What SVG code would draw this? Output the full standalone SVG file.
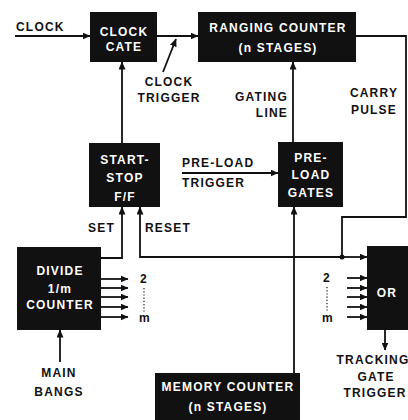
<svg xmlns="http://www.w3.org/2000/svg" width="408" height="420" viewBox="0 0 408 420">
<defs>
<marker id="ah" markerWidth="8" markerHeight="7" refX="7.5" refY="3.5" orient="auto" markerUnits="userSpaceOnUse">
<path d="M0,0 L8,3.5 L0,7 Z" fill="#111"/>
</marker>
<style>
.box{fill:#111;}
.t{font-family:"Liberation Sans",Arial,sans-serif;font-weight:bold;font-size:12px;letter-spacing:1.2px;fill:#111;}
.w{fill:#fff;text-anchor:middle;}
.c{text-anchor:middle;}
.ln{fill:none;stroke:#111;stroke-width:1.8;}
.a{marker-end:url(#ah);}
.dot{fill:none;stroke:#111;stroke-width:1.2;stroke-dasharray:1.2 2;}
</style>
</defs>
<rect width="408" height="420" fill="#fff"/>

<g id="connectors">
<path class="ln a" d="M15,36 H90"/>
<path class="ln a" d="M157,36 H198"/>
<path class="ln a" d="M163,72 L176,39"/>
<path class="ln a" d="M122,143 V62"/>
<path class="ln" d="M356,36 H406 V217 H342 V257"/>
<path class="ln a" d="M342,257 H140 V207"/>
<path class="ln a" d="M342,257 H367"/>
<circle cx="342" cy="257" r="2.5" fill="#111"/>
<path class="ln a" d="M101,258 H122 V207"/>
<path class="ln a" d="M293,142 V62"/>
<path class="ln a" d="M182,173 H278"/>
<path class="ln a" d="M294,373 V207"/>
<path class="ln a" d="M101,279 H128"/>
<path class="ln a" d="M101,288 H128"/>
<path class="ln a" d="M101,297 H128"/>
<path class="ln a" d="M101,307 H128"/>
<path class="ln a" d="M101,317 H128"/>
<path class="ln a" d="M347,278 H367"/>
<path class="ln a" d="M347,288 H367"/>
<path class="ln a" d="M347,297 H367"/>
<path class="ln a" d="M347,307 H367"/>
<path class="ln a" d="M347,317 H367"/>
<path class="ln a" d="M385,330 V350"/>
<path class="ln a" d="M60,362 V330"/>
<path class="dot" d="M144,288 V312"/>
<path class="dot" d="M327,287 V312"/>
</g>

<g id="clock-gate">
<rect class="box" x="90" y="12" width="67" height="50"/>
<text class="t w" x="124" y="36">CLOCK</text>
<text class="t w" x="124" y="51">CATE</text>
</g>

<g id="ranging-counter">
<rect class="box" x="198" y="12" width="158" height="50"/>
<text class="t w" x="278" y="32">RANGING COUNTER</text>
<text class="t w" x="278" y="52">(n STAGES)</text>
</g>

<g id="start-stop">
<rect class="box" x="89" y="143" width="71" height="64"/>
<text class="t w" x="125" y="164">START-</text>
<text class="t w" x="125" y="182">STOP</text>
<text class="t w" x="125" y="201">F/F</text>
</g>

<g id="pre-load-gates">
<rect class="box" x="278" y="142" width="65" height="65"/>
<text class="t w" x="311" y="162">PRE-</text>
<text class="t w" x="311" y="179">LOAD</text>
<text class="t w" x="311" y="197">GATES</text>
</g>

<g id="divide-counter">
<rect class="box" x="17" y="247" width="84" height="83"/>
<text class="t w" x="60" y="275">DIVIDE</text>
<text class="t w" x="60" y="293">1/m</text>
<text class="t w" x="60" y="309">COUNTER</text>
</g>

<g id="or-gate">
<rect class="box" x="367" y="246" width="41" height="84"/>
<text class="t w" x="387" y="297">OR</text>
</g>

<g id="memory-counter">
<rect class="box" x="155" y="373" width="145" height="52"/>
<text class="t w" x="228" y="391">MEMORY COUNTER</text>
<text class="t w" x="228" y="411">(n STAGES)</text>
</g>

<g id="labels">
<text class="t" x="16" y="31">CLOCK</text>
<text class="t c" x="169" y="86">CLOCK</text>
<text class="t c" x="169" y="102">TRIGGER</text>
<text class="t" x="288" y="101" text-anchor="end">GATING</text>
<text class="t" x="288" y="117" text-anchor="end">LINE</text>
<text class="t c" x="374" y="97">CARRY</text>
<text class="t c" x="374" y="114">PULSE</text>
<text class="t" x="182" y="167">PRE-LOAD</text>
<text class="t" x="182" y="187">TRIGGER</text>
<text class="t" x="88" y="232">SET</text>
<text class="t" x="145" y="232">RESET</text>
<text class="t" x="140" y="283">2</text>
<text class="t" x="139" y="322">m</text>
<text class="t" x="323" y="282">2</text>
<text class="t" x="322" y="322">m</text>
<text class="t c" x="373" y="364">TRACKING</text>
<text class="t c" x="376" y="381">GATE</text>
<text class="t c" x="375" y="397">TRIGGER</text>
<text class="t c" x="59" y="377">MAIN</text>
<text class="t c" x="59" y="396">BANGS</text>
</g>
</svg>
